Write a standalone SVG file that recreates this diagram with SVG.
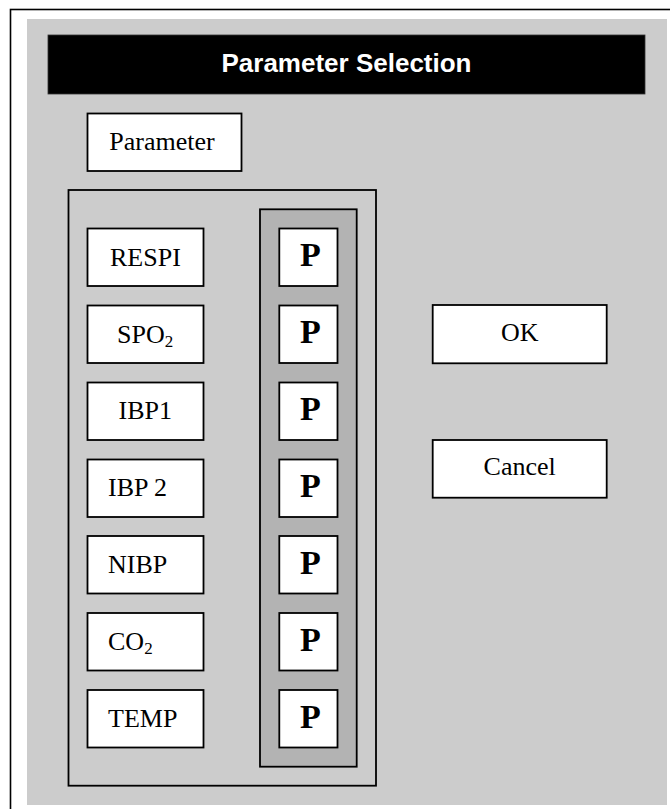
<svg xmlns="http://www.w3.org/2000/svg" width="670" height="809" viewBox="0 0 670 809">
<style>
.box{fill:#ffffff;stroke:#000000;stroke-width:1.8}
.lbl{font-family:"Liberation Serif","Times New Roman",serif;font-size:26px;fill:#000000}
.sub{font-size:17px}
.p{font-family:"Liberation Serif","Times New Roman",serif;font-size:34px;font-weight:bold;fill:#000000}
.title{font-family:"Liberation Sans",Arial,sans-serif;font-size:26px;font-weight:bold;fill:#ffffff}
</style>
<rect x="10.5" y="9.5" width="700" height="850" fill="#ffffff" stroke="#000000" stroke-width="1.6"/>
<rect x="27" y="19" width="640" height="786" fill="#cccccc"/>
<g id="title">
<rect x="48" y="35" width="597" height="59" fill="#000000" stroke="#333333" stroke-width="0.8"/>
<text class="title" x="346.5" y="72" text-anchor="middle">Parameter Selection</text>
</g>
<g id="parameter">
<rect class="box" x="87.5" y="113.5" width="154" height="57.5"/>
<text class="lbl" x="162" y="149.5" text-anchor="middle">Parameter</text>
</g>
<g id="list-frame">
<rect x="68.5" y="190" width="307.5" height="595.7" fill="none" stroke="#000000" stroke-width="1.8"/>
</g>
<g id="p-column">
<rect x="260" y="209.3" width="96.7" height="557.4" fill="#b3b3b3" stroke="#000000" stroke-width="1.8"/>
</g>
<g id="respi">
<rect class="box" x="87.5" y="228.5" width="116" height="57.5"/>
<text class="lbl" x="110" y="266">RESPI</text>
</g>
<g id="spo2">
<rect class="box" x="87.5" y="305.5" width="116" height="57.5"/>
<text class="lbl" x="117" y="343">SPO<tspan class="sub" dy="4">2</tspan></text>
</g>
<g id="ibp1">
<rect class="box" x="87.5" y="382.5" width="116" height="57.5"/>
<text class="lbl" x="118.5" y="419">IBP1</text>
</g>
<g id="ibp2">
<rect class="box" x="87.5" y="459.5" width="116" height="57.5"/>
<text class="lbl" x="108" y="496">IBP 2</text>
</g>
<g id="nibp">
<rect class="box" x="87.5" y="536" width="116" height="57.5"/>
<text class="lbl" x="108" y="573">NIBP</text>
</g>
<g id="co2">
<rect class="box" x="87.5" y="613" width="116" height="57.5"/>
<text class="lbl" x="108" y="650">CO<tspan class="sub" dy="4">2</tspan></text>
</g>
<g id="temp">
<rect class="box" x="87.5" y="690" width="116" height="57.5"/>
<text class="lbl" x="108" y="727">TEMP</text>
</g>
<g id="p-respi">
<rect class="box" x="279.3" y="228.5" width="58.2" height="57.5"/>
<text class="p" x="300" y="266">P</text>
</g>
<g id="p-spo2">
<rect class="box" x="279.3" y="305.5" width="58.2" height="57.5"/>
<text class="p" x="300" y="343">P</text>
</g>
<g id="p-ibp1">
<rect class="box" x="279.3" y="382.5" width="58.2" height="57.5"/>
<text class="p" x="300" y="420">P</text>
</g>
<g id="p-ibp2">
<rect class="box" x="279.3" y="459.5" width="58.2" height="57.5"/>
<text class="p" x="300" y="497">P</text>
</g>
<g id="p-nibp">
<rect class="box" x="279.3" y="536" width="58.2" height="57.5"/>
<text class="p" x="300" y="573.5">P</text>
</g>
<g id="p-co2">
<rect class="box" x="279.3" y="613" width="58.2" height="57.5"/>
<text class="p" x="300" y="650.5">P</text>
</g>
<g id="p-temp">
<rect class="box" x="279.3" y="690" width="58.2" height="57.5"/>
<text class="p" x="300" y="727.5">P</text>
</g>
<g id="ok">
<rect class="box" x="432.7" y="305" width="174" height="58.3"/>
<text class="lbl" x="519.7" y="341" text-anchor="middle">OK</text>
</g>
<g id="cancel">
<rect class="box" x="432.7" y="440" width="174" height="57.7"/>
<text class="lbl" x="519.7" y="475" text-anchor="middle">Cancel</text>
</g>
<g id="connectors"/>
</svg>
